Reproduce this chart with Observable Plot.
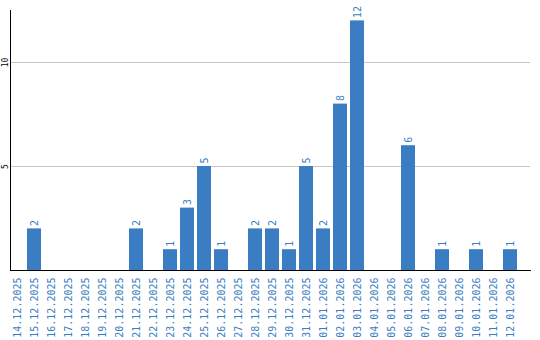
<!DOCTYPE html>
<html><head><meta charset="utf-8">
<script src="https://cdn.jsdelivr.net/npm/d3@7"></script>
<script src="https://cdn.jsdelivr.net/npm/@observablehq/plot@0.6"></script>
<style>body{margin:0;background:#fff}</style>
</head><body><div id="chart"></div>
<script>
const dates = ["14.12.2025","15.12.2025","16.12.2025","17.12.2025","18.12.2025","19.12.2025","20.12.2025","21.12.2025","22.12.2025","23.12.2025","24.12.2025","25.12.2025","26.12.2025","27.12.2025","28.12.2025","29.12.2025","30.12.2025","31.12.2025","01.01.2026","02.01.2026","03.01.2026","04.01.2026","05.01.2026","06.01.2026","07.01.2026","08.01.2026","09.01.2026","10.01.2026","11.01.2026","12.01.2026"];
const counts = [0,2,0,0,0,0,0,2,0,1,3,5,1,0,2,2,1,5,2,8,12,0,0,6,0,1,0,1,0,1];
const yTicks = [5,10];
const data = dates.map((d,i)=>({date:d, value:counts[i]}));
const blue = "#3a7dc2";
const chart = Plot.plot({
  width:540, height:340,
  marginLeft:10, marginRight:10, marginTop:10, marginBottom:70,
  style:{fontFamily:"'DejaVu Sans Mono', monospace", background:"#fff"},
  x:{domain:dates, range:[10,517], paddingInner:0.176, paddingOuter:0, align:0, round:false},
  y:{domain:[0,12.5]},
  marks:[
    Plot.ruleY(yTicks, {stroke:"#c8c8c8", strokeWidth:1}),
    Plot.barY(data, {x:"date", y:"value", fill:blue}),
    Plot.text(data.filter(d=>d.value>0), {x:"date", y:"value", text:d=>String(d.value), rotate:-90, textAnchor:"start", lineAnchor:"middle", dy:-3, fill:blue, fontSize:10}),
    Plot.axisX({tickSize:0, tickPadding:7, tickRotate:-90, fill:blue, fontSize:10, label:null}),
    Plot.axisY({ticks:yTicks, tickSize:0, tickPadding:3, tickRotate:-90, fill:"#000", fontSize:8, label:null}),
    Plot.frame({anchor:"left", stroke:"#000"}),
    Plot.frame({anchor:"bottom", stroke:"#000"})
  ]
});
document.getElementById("chart").appendChild(chart);
</script></body></html>
